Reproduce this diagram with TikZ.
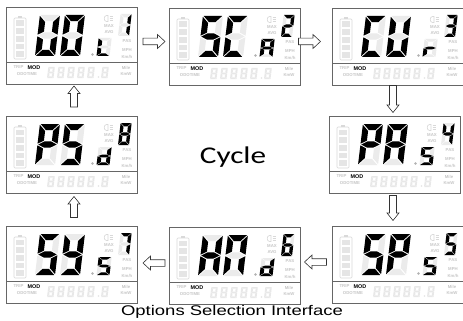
\documentclass[tikz,border=0pt]{standalone}
\usepackage{fontspec}
\setmainfont{Liberation Sans}
\newfontfamily\cyclefont{Carlito}
\tikzset{
  panel/.style={draw=black!60, line width=0.7pt, minimum width=131pt, minimum height=77pt, inner sep=0pt, anchor=north west},
  ghosttxt/.style={text=black!22, font=\fontsize{4.3}{4.3}\selectfont\bfseries, inner sep=0pt},
  modtxt/.style={text=black, font=\fontsize{5.4}{5.4}\selectfont\bfseries, inner sep=0pt},
  blockarrow/.style={draw=black!80, fill=white, line width=0.6pt, line join=miter},
  ghostline/.style={draw=black!15, line width=0.6pt},
}
\newcommand\segshape[2]{%
  \if#2a\fill[#1] (0.04,2)--(0.96,2)--(0.66,1.70)--(0.34,1.70)--cycle;\fi
  \if#2b\fill[#1] (1,1.96)--(0.70,1.66)--(0.70,1.19)--(1,1.04)--cycle;\fi
  \if#2c\fill[#1] (1,0.04)--(0.70,0.34)--(0.70,0.81)--(1,0.96)--cycle;\fi
  \if#2d\fill[#1] (0.04,0)--(0.96,0)--(0.66,0.30)--(0.34,0.30)--cycle;\fi
  \if#2e\fill[#1] (0,0.04)--(0.30,0.34)--(0.30,0.81)--(0,0.96)--cycle;\fi
  \if#2f\fill[#1] (0,1.96)--(0.30,1.66)--(0.30,1.19)--(0,1.04)--cycle;\fi
  \if#2g\fill[#1] (0.04,1)--(0.34,1.15)--(0.66,1.15)--(0.96,1)--(0.66,0.85)--(0.34,0.85)--cycle;\fi
}
% x y w h segments
\newcommand\sdig[5]{%
  \begin{scope}[shift={(#1,#2)}, x={(#3pt,0pt)}, y={({0.06*#4pt},{0.5*#4pt})}]
    \foreach \s in {a,b,c,d,e,f,g}{\segshape{black!8}{\s}}
    \foreach \s in {#5}{\segshape{black}{\s}}
  \end{scope}}
\newcommand\gdig[4]{%
  \begin{scope}[shift={(#1,#2)}, x={(#3pt,0pt)}, y={({0.06*#4pt},{0.5*#4pt})}]
    \foreach \s in {a,b,c,d,e,f,g}{\segshape{black!9}{\s}}
  \end{scope}}
% name x y big1 big2 small top
\newcommand\lcd[7]{%
  \node[panel] (#1) at (#2,#3) {};
  \begin{scope}[shift={(#2,#3)}]
    % battery
    \draw[ghostline, rounded corners=1pt] (8,11) rectangle (20,52);
    \fill[black!15] (12,9) rectangle (16,11);
    \foreach \i in {0,...,4}{\fill[black!10] (10,{13.5+\i*7.7}) rectangle (18,{19.3+\i*7.7});}
    % digits
    \sdig{29}{49}{20}{41}{#4}
    \sdig{54}{49}{20}{41}{#5}
    \fill[black!30] (86.5,47.5) circle (1.3);
    \sdig{90.5}{49}{13}{18}{#6}
    \sdig{112}{29}{11}{22}{#7}
    % light icon
    \draw[ghostline] (102,8.5) -- (100.5,8.5) .. controls (97.5,8.5) and (97.5,14.5) .. (100.5,14.5) -- (102,14.5) -- cycle;
    \draw[ghostline] (103.5,9.3) -- (107,9.3) (103.5,11.5) -- (107,11.5) (103.5,13.7) -- (107,13.7);
    \node[ghosttxt] (#1max) at (103,19.5) {MAX};
    \node[ghosttxt] (#1avg) at (103,25) {AVG};
    \node[ghosttxt] (#1pas) at (121,34) {PAS};
    \node[ghosttxt] (#1mph) at (121,43) {MPH};
    \node[ghosttxt] (#1kmh) at (121,49.5) {Km/h};
    % lower strip
    \draw[black!60, line width=0.6pt] (0,55) -- (131,55);
    \node[ghosttxt] (#1trip) at (12.5,60.5) {TRIP};
    \node[modtxt] (#1mod) at (28,60.5) {MOD};
    \node[ghosttxt] (#1odo) at (21,67.5) {ODOTIME};
    \foreach \xx in {41,51,61,71,81,95}{\gdig{\xx}{71}{6.5}{11}}
    \fill[black!10] (92.5,70) circle (0.8);
    \node[ghosttxt] (#1mile) at (120,60.5) {Mile};
    \node[ghosttxt] (#1kmw) at (120,67.5) {KmW};
  \end{scope}}
% cx cy rotation length shaft head
\newcommand\barrow[6]{%
  \draw[blockarrow, shift={(#1,#2)}, rotate=#3]
    ({-#4/2},-#5) -- ({#4/2-7.5},-#5) -- ({#4/2-7.5},-#6) -- ({#4/2},0) --
    ({#4/2-7.5},#6) -- ({#4/2-7.5},#5) -- ({-#4/2},#5) -- cycle;}
\begin{document}
\begin{tikzpicture}[x=1pt, y=-1pt]
  \useasboundingbox[fill=white] (0,0) rectangle (463,321);
  \lcd{p1}{6}{7}{b,c,d,e,f}{a,b,c,d,e,f}{d,e,f}{b,c}
  \lcd{p2}{169}{8}{a,f,g,c,d}{a,f,e,d}{a,b,c,e,f,g}{a,b,g,e,d}
  \lcd{p3}{332}{8}{a,f,e,d}{b,c,d,e,f}{e,g}{a,b,g,c,d}
  \lcd{p4}{6}{116}{a,b,f,g,e}{a,f,g,c,d}{b,c,d,e,g}{a,b,c,d,e,f,g}
  \lcd{p5}{329}{116}{a,b,f,g,e}{a,b,c,e,f,g}{a,f,g,c,d}{f,g,b,c}
  \lcd{p6}{6}{226}{a,f,g,c,d}{f,g,b,c,d}{a,f,g,c,d}{a,b,c}
  \lcd{p7}{169}{227}{f,e,g,b,c}{a,b,c,e,f}{b,c,d,e,g}{a,f,g,e,d,c}
  \lcd{p8}{332}{226}{a,f,g,c,d}{a,b,f,g,e}{a,f,g,c,d}{a,f,g,c,d}
  % arrows
  \barrow{154}{41.5}{0}{22}{3.3}{7}
  \barrow{309.5}{41.5}{0}{22}{3.3}{7}
  \barrow{393}{99}{-90}{27}{3.5}{6}
  \barrow{393}{208}{-90}{25}{3.5}{6}
  \barrow{315.5}{262}{180}{22}{3.3}{7}
  \barrow{154}{263}{180}{22}{3.3}{7}
  \barrow{74}{207}{90}{21}{3.5}{6}
  \barrow{74}{96.5}{90}{21}{3.5}{6}
  \node (cycle) at (233,157) {\cyclefont\fontsize{24}{24}\selectfont\scalebox{1.3}[1]{Cycle}};
  \node (caption) at (232,312) {\fontsize{14}{14}\selectfont\scalebox{1.32}[1]{Options Selection Interface}};
\end{tikzpicture}
\end{document}
